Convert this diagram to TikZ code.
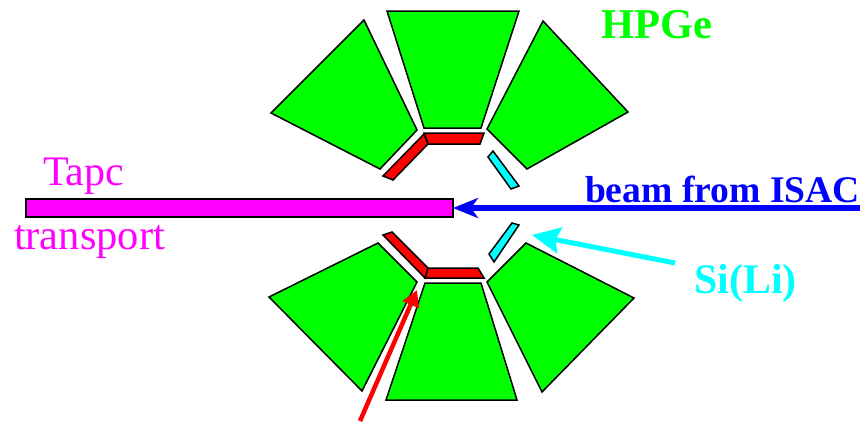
\documentclass[tikz,border=0pt]{standalone}
\usepackage{fontspec}
\setmainfont{Liberation Serif}
\usetikzlibrary{arrows.meta}
\definecolor{pgreen}{RGB}{0,255,0}
\definecolor{pred}{RGB}{255,0,0}
\definecolor{pmag}{RGB}{255,0,255}
\definecolor{pcyan}{RGB}{0,255,255}
\definecolor{pblue}{RGB}{0,0,255}
\tikzset{
  det/.style={draw=black,line width=1.5pt,line join=miter,fill=#1},
  lab/.style={anchor=base west,inner sep=0pt,outer sep=0pt,text=#1}
}
\begin{document}
\begin{tikzpicture}[x=1pt,y=-1pt]
\useasboundingbox (0,0) rectangle (860,421);
% HPGe detectors, top
\draw[det=pgreen] (387,11) -- (519,11) -- (481,128) -- (424,128) -- cycle;
\draw[det=pgreen] (364,20) -- (271,113) -- (380,169) -- (417,130) -- cycle;
\draw[det=pgreen] (543,21) -- (628,112) -- (527,169) -- (487,129) -- cycle;
% HPGe detectors, bottom
\draw[det=pgreen] (386,400) -- (517,400) -- (481,283) -- (425,283) -- cycle;
\draw[det=pgreen] (378,243) -- (269,297) -- (362,391) -- (417,282) -- cycle;
\draw[det=pgreen] (526,243) -- (634,298) -- (542,392) -- (487,282) -- cycle;
% Red detectors
\draw[det=pred] (424,133) -- (484,133) -- (480,144) -- (428,144) -- cycle;
\draw[det=pred] (424,134) -- (428,144) -- (393,180) -- (383,176) -- cycle;
\draw[det=pred] (428,268) -- (478,268) -- (484,278) -- (425,278) -- cycle;
\draw[det=pred] (392,232) -- (383,235) -- (423,276) -- (425,278) -- (428,268) -- cycle;
% Si(Li)
\draw[det=pcyan] (493,151) -- (488,157) -- (511,189) -- (519,186) -- cycle;
\draw[det=pcyan] (512,223) -- (519,225) -- (494,262) -- (489,254) -- cycle;
% Tape
\draw[det=pmag] (26,199) rectangle (453,217);
% Arrows
\coordinate (beamS) at (860,208);
\coordinate (beamE) at (453,208);
\coordinate (siS) at (675,263);
\coordinate (siE) at (532,235);
\coordinate (redS) at (360,421);
\coordinate (redE) at (417,290);
\draw[pblue,line width=5.5pt,-{Stealth[length=25pt,width=20pt,inset=7pt]}] (beamS) -- (beamE);
\draw[pcyan,line width=5pt,-{Stealth[length=28pt,width=26pt,inset=4pt]}] (siS) -- (siE);
\draw[pred,line width=4.5pt,-{Stealth[length=16pt,width=17pt,inset=0pt]}] (redS) -- (redE);
% Labels
\node[lab=pgreen] (hpge) at (601,38) {\fontsize{42.5}{44}\selectfont\bfseries HPGe};
\node[lab=pmag] (tapc) at (43,185) {\fontsize{42}{44}\selectfont Tapc};
\node[lab=pmag] (transport) at (14,249) {\fontsize{42.5}{44}\selectfont transport};
\node[lab=pblue] (beam) at (585,202) {\fontsize{37.6}{42}\selectfont\bfseries beam from ISAC};
\node[lab=pcyan] (si) at (694,293) {\fontsize{42}{44}\selectfont\bfseries Si(Li)};
\end{tikzpicture}
\end{document}
